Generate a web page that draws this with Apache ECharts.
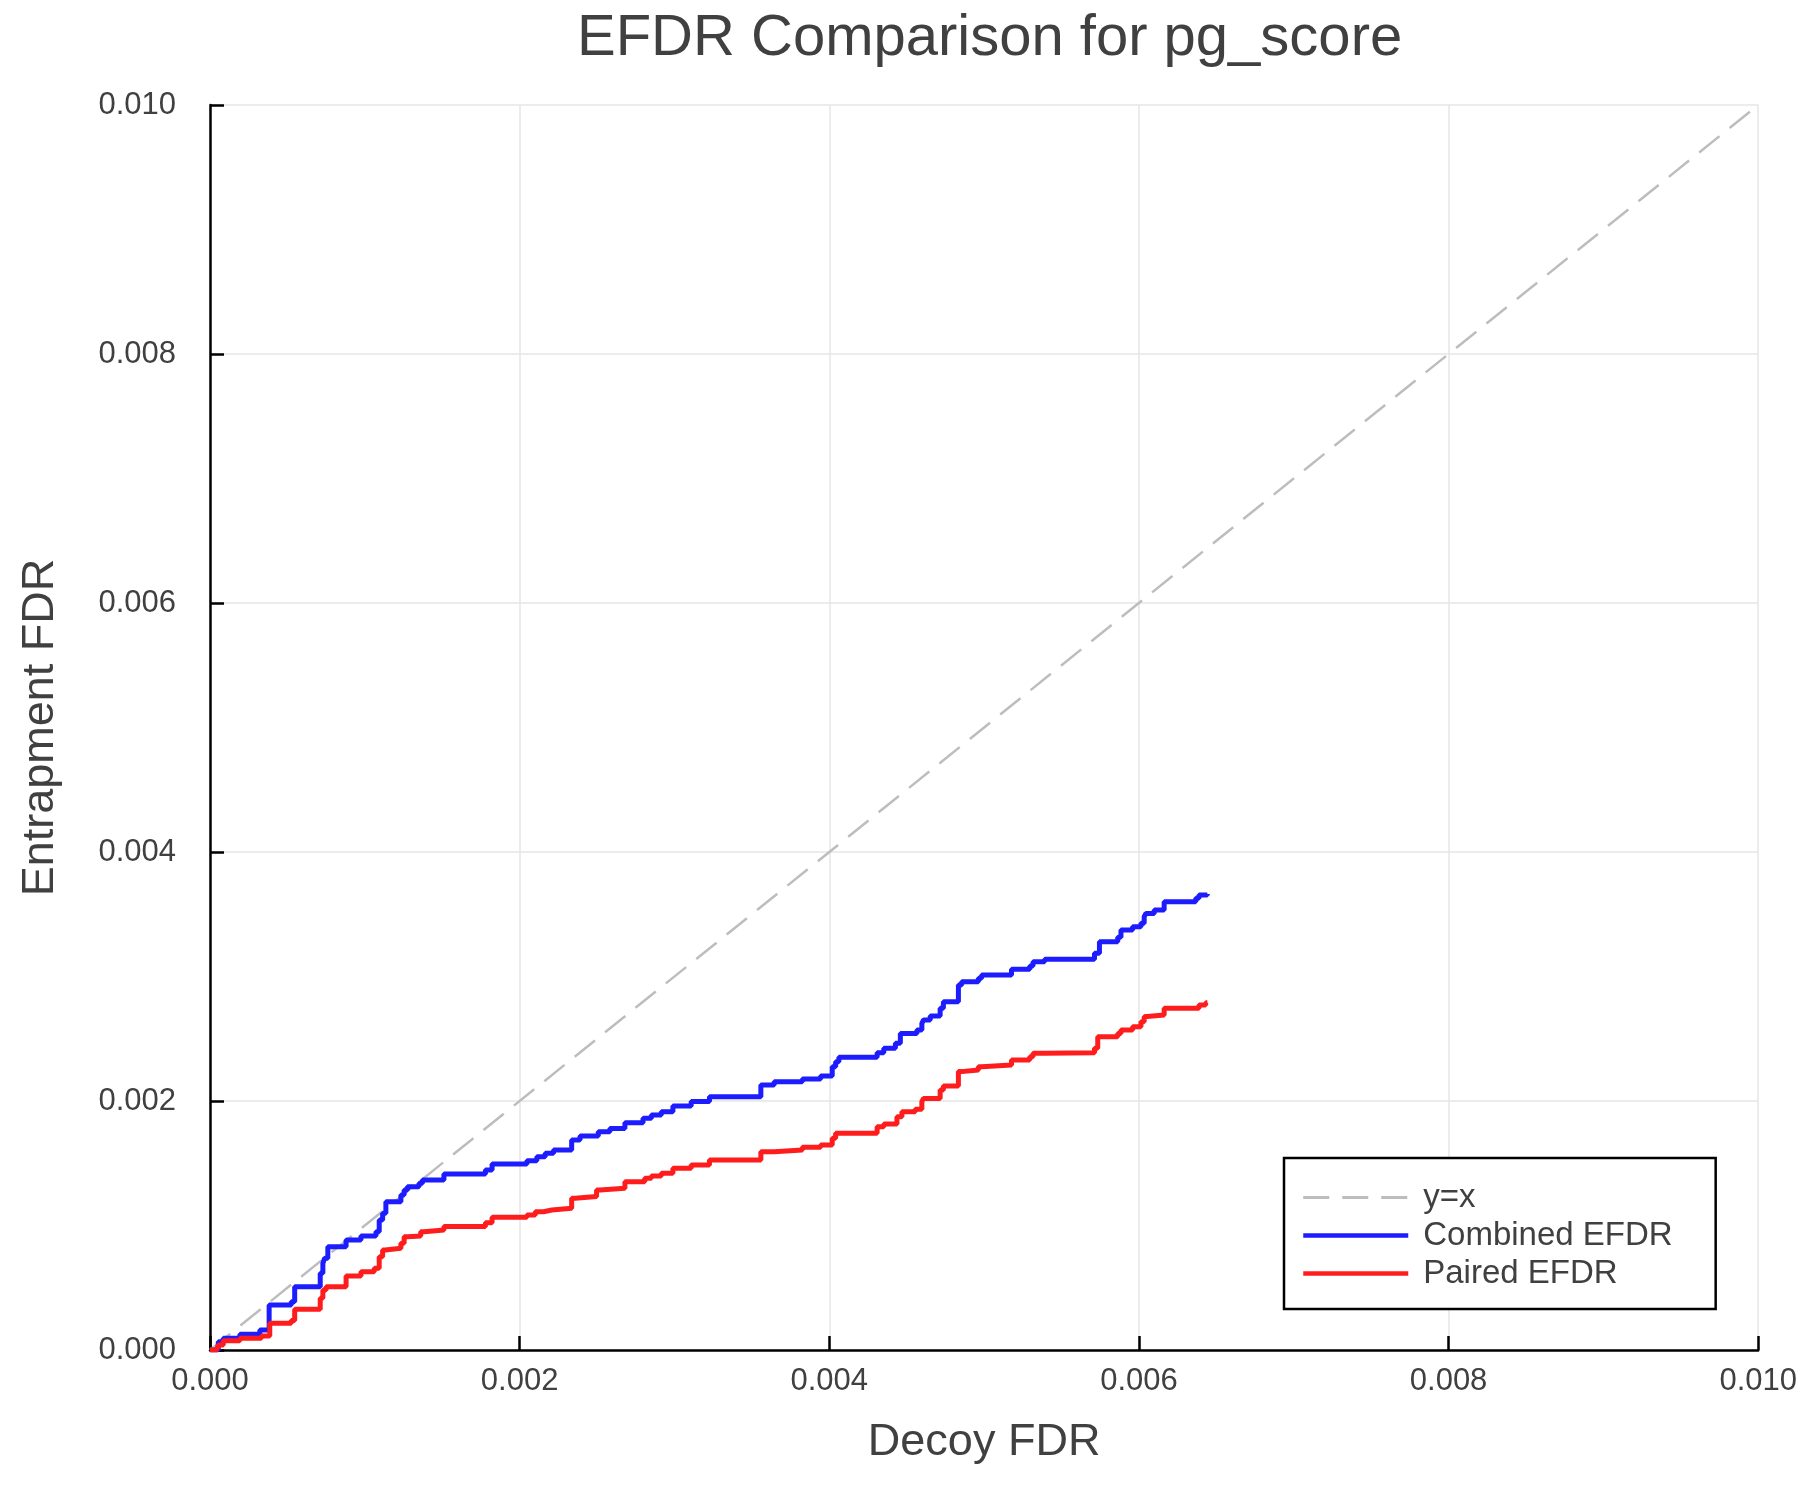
<!DOCTYPE html>
<html>
<head>
<meta charset="utf-8">
<script src="https://cdn.jsdelivr.net/npm/echarts@6/dist/echarts.min.js"></script>
<style>
html,body{margin:0;padding:0;background:#fff;}
#chart{width:1800px;height:1500px;}
</style>
</head>
<body>
<div id="chart"></div>
<script>
const titleText = 'EFDR Comparison for pg_score';
const xAxisName = 'Decoy FDR';
const yAxisName = 'Entrapment FDR';
const seriesNames = ['y=x', 'Combined EFDR', 'Paired EFDR'];
const axisTicks = [0, 0.002, 0.004, 0.006, 0.008, 0.010];

const identityX = [0, 0.01];
const identityY = [0, 0.01];

const combinedX = [0, 0.0000536, 0.0000857, 0.000193, 0.000322, 0.000382, 0.000525, 0.000547, 0.000712, 0.000729,
  0.00074, 0.000761, 0.000879, 0.000975, 0.001072, 0.001093, 0.001115, 0.001136, 0.001233, 0.001254,
  0.001275, 0.00135, 0.001372, 0.001511, 0.001779, 0.001822, 0.002047, 0.002111, 0.002165, 0.002219,
  0.002336, 0.00239, 0.002508, 0.002583, 0.00268, 0.002797, 0.002851, 0.002915, 0.00299, 0.003108,
  0.003226, 0.003558, 0.003644, 0.003826, 0.003944, 0.004019, 0.004041, 0.004062, 0.004309, 0.004352,
  0.004427, 0.004459, 0.004566, 0.004598, 0.004609, 0.004652, 0.004716, 0.004737, 0.004834, 0.004855,
  0.004963, 0.004984, 0.005177, 0.005295, 0.005316, 0.005391, 0.005713, 0.005745, 0.005863, 0.005884,
  0.005959, 0.006013, 0.006034, 0.006045, 0.006099, 0.006163, 0.006367, 0.006388, 0.006442];
const combinedY = [0, 0.0000669, 0.0000937, 0.000126, 0.000161, 0.000361, 0.000388, 0.000509, 0.000616, 0.000696,
  0.000736, 0.00083, 0.000884, 0.000916, 0.00095, 0.001044, 0.001098, 0.001191, 0.001245, 0.001285,
  0.001312, 0.001339, 0.001365, 0.001414, 0.001446, 0.001494, 0.001521, 0.001553, 0.00158, 0.001606,
  0.001687, 0.001719, 0.001754, 0.00178, 0.001826, 0.001861, 0.001888, 0.001914, 0.00196, 0.001995,
  0.002035, 0.002129, 0.002155, 0.002177, 0.002201, 0.002276, 0.002316, 0.002351, 0.002388, 0.002423,
  0.002463, 0.002543, 0.00257, 0.002624, 0.002651, 0.002683, 0.002744, 0.002798, 0.002932, 0.002958,
  0.002985, 0.003012, 0.003058, 0.003084, 0.003119, 0.003138, 0.003186, 0.00328, 0.003315, 0.003373,
  0.0034, 0.003427, 0.003481, 0.003507, 0.003534, 0.003601, 0.003628, 0.003655, 0.003663];

const pairedX = [0, 0.0000429, 0.0000536, 0.0000857, 0.000193, 0.000332, 0.000386, 0.000525, 0.000547, 0.000712,
  0.000729, 0.00075, 0.000879, 0.000975, 0.001061, 0.001093, 0.001115, 0.001132, 0.001233, 0.001254,
  0.001275, 0.001361, 0.001383, 0.001511, 0.001779, 0.001822, 0.002047, 0.002101, 0.002154, 0.002208,
  0.002336, 0.002358, 0.002497, 0.002519, 0.00268, 0.002808, 0.002851, 0.002915, 0.00299, 0.003108,
  0.003226, 0.003558, 0.003644, 0.003826, 0.003944, 0.004019, 0.004041, 0.004309, 0.004352, 0.004437,
  0.004469, 0.004555, 0.004598, 0.004609, 0.004716, 0.004737, 0.004834, 0.004855, 0.004963, 0.004984,
  0.005177, 0.005295, 0.005316, 0.005391, 0.005713, 0.005734, 0.005863, 0.005884, 0.005959, 0.006013,
  0.006034, 0.006045, 0.006163, 0.006388, 0.006431, 0.006442];
const pairedY = [0, 0.0000134, 0.0000402, 0.000075, 0.0000937, 0.000112, 0.000214, 0.000236, 0.000327, 0.000415,
  0.000482, 0.000509, 0.000594, 0.000629, 0.000656, 0.00075, 0.000803, 0.000817, 0.000857, 0.00091,
  0.000916, 0.00095, 0.000964, 0.000991, 0.001023, 0.001066, 0.001084, 0.001111, 0.001124, 0.001138,
  0.001218, 0.001232, 0.001285, 0.001299, 0.001352, 0.001379, 0.001398, 0.001419, 0.001459, 0.001486,
  0.001526, 0.001593, 0.001606, 0.001628, 0.001647, 0.0017, 0.00174, 0.001794, 0.001815, 0.001874,
  0.001914, 0.001933, 0.001995, 0.002021, 0.002088, 0.00212, 0.002236, 0.002249, 0.002276, 0.002289,
  0.002329, 0.002356, 0.002383, 0.002388, 0.002423, 0.002517, 0.002543, 0.00257, 0.002597, 0.002637,
  0.002677, 0.002691, 0.002744, 0.002771, 0.00279, 0.00279];

function zip(xs, ys) { return xs.map((x, i) => [x, ys[i]]); }

const FONT = '"Liberation Sans", Arial, Helvetica, sans-serif';
const TEXT = '#404040';
const COLORS = ['#bdbdbd', '#1c1cff', '#ff1c1c'];

function makeAxis(name, isX) {
  return {
    type: 'value',
    min: axisTicks[0],
    max: axisTicks[axisTicks.length - 1],
    interval: 0.002,
    name: name,
    nameLocation: 'middle',
    nameGap: isX ? 70 : 147,
    nameTextStyle: { fontFamily: FONT, fontSize: 45, color: TEXT },
    axisLine: { show: true, onZero: false, lineStyle: { color: '#000', width: 2.5 } },
    axisTick: { show: true, inside: true, length: 14, lineStyle: { color: '#000', width: 2.5 } },
    axisLabel: {
      fontFamily: FONT, fontSize: 31, color: TEXT,
      margin: isX ? 16 : 34,
      formatter: v => v.toFixed(3)
    },
    splitLine: { show: true, lineStyle: { color: '#e6e6e6', width: 1.5 } }
  };
}

const chart = echarts.init(document.getElementById('chart'), null, { renderer: 'canvas' });
chart.setOption({
  animation: false,
  backgroundColor: '#fff',
  title: {
    text: titleText,
    left: 572,
    top: 5,
    textStyle: { fontFamily: FONT, fontSize: 58, fontWeight: 'normal', color: TEXT }
  },
  grid: { left: 210, right: 35, top: 105, bottom: 150, containLabel: false },
  xAxis: makeAxis(xAxisName, true),
  yAxis: makeAxis(yAxisName, false),
  legend: {
    orient: 'vertical',
    left: 1284,
    top: 1158,
    padding: [23, 43, 19, 17],
    borderColor: '#000',
    borderWidth: 2.5,
    backgroundColor: '#fff',
    itemWidth: 105,
    itemHeight: 20,
    itemGap: 5,
    itemStyle: { opacity: 0 },
    textStyle: { fontFamily: FONT, fontSize: 33, color: TEXT, lineHeight: 33, padding: [0, 0, 0, 10] },
    data: [
      { name: seriesNames[0], lineStyle: { color: COLORS[0], width: 3, type: [26, 13] } },
      { name: seriesNames[1], lineStyle: { color: COLORS[1], width: 4.5 } },
      { name: seriesNames[2], lineStyle: { color: COLORS[2], width: 4.5 } }
    ]
  },
  series: [
    {
      name: seriesNames[0], type: 'line', data: zip(identityX, identityY),
      symbol: 'none', showSymbol: false, silent: true,
      lineStyle: { color: COLORS[0], width: 2.5, type: [26, 13] },
      itemStyle: { color: COLORS[0] }
    },
    {
      name: seriesNames[1], type: 'line', step: 'end', data: zip(combinedX, combinedY),
      symbol: 'none', showSymbol: false, silent: true,
      lineStyle: { color: COLORS[1], width: 5 },
      itemStyle: { color: COLORS[1] }
    },
    {
      name: seriesNames[2], type: 'line', step: 'end', data: zip(pairedX, pairedY),
      symbol: 'none', showSymbol: false, silent: true,
      lineStyle: { color: COLORS[2], width: 5 },
      itemStyle: { color: COLORS[2] }
    }
  ]
});
</script>
</body>
</html>
